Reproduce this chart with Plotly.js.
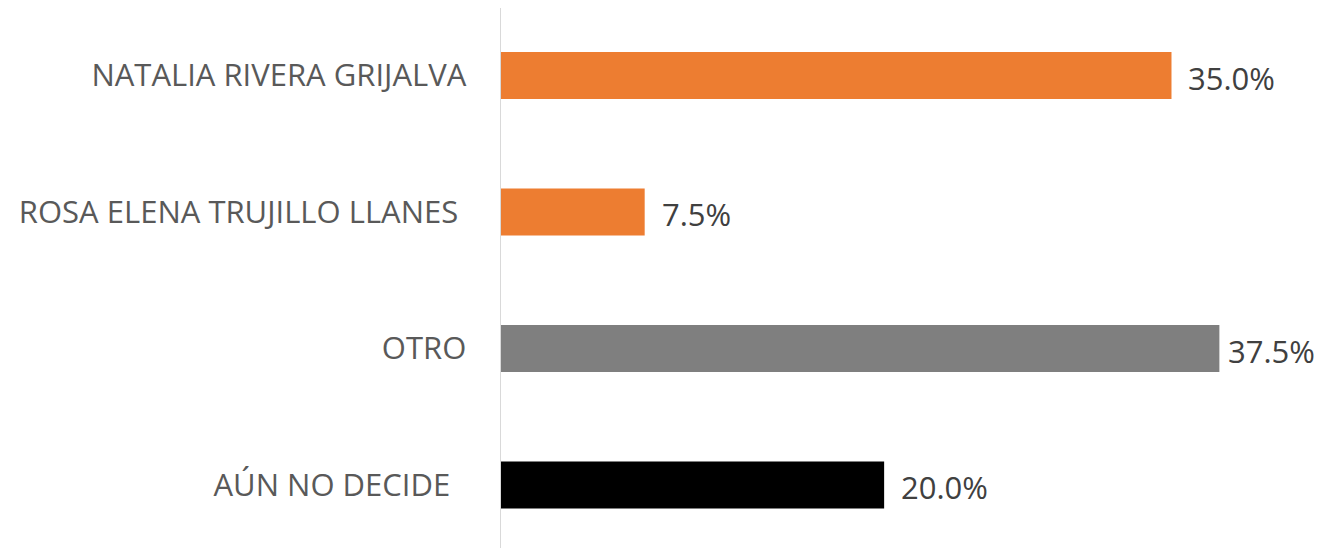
<!DOCTYPE html>
<html><head><meta charset="utf-8">
<script src="https://cdn.plot.ly/plotly-3.0.1.min.js"></script>
<style>html,body{margin:0;padding:0;background:#fff}#chart{width:1319px;height:548px}</style>
</head><body><div id="chart"></div>
<script>
const categories = ["AÚN NO DECIDE", "OTRO", "ROSA ELENA TRUJILLO LLANES", "NATALIA RIVERA GRIJALVA"];
const values = [20.0, 37.5, 7.5, 35.0];
const colors = ["#000000", "#7F7F7F", "#ED7D31", "#ED7D31"];
const tickLabels = ["AÚN NO DECIDE\u00a0\u00a0", "OTRO", "ROSA ELENA TRUJILLO LLANES\u00a0", "NATALIA RIVERA GRIJALVA"];
const valueLabels = values.map(v => v.toFixed(1) + "%");
const labelShift = [15, 7, 15, 15];

const trace = {
  type: "bar", orientation: "h",
  x: values, y: categories,
  marker: {color: colors},
  width: 0.345,
  hoverinfo: "none"
};
const annotations = values.map((v, i) => ({
  x: v, y: categories[i], xref: "x", yref: "y",
  text: valueLabels[i], showarrow: false, xanchor: "left", yanchor: "middle",
  xshift: labelShift[i], yshift: -2,
  font: {family: "Open Sans, sans-serif", size: 31, color: "#404040"}
}));
const layout = {
  width: 1319, height: 548,
  margin: {l: 501, r: 0, t: 8, b: 0},
  paper_bgcolor: "#fff", plot_bgcolor: "#fff",
  showlegend: false,
  xaxis: {range: [0, 42.7], showgrid: false, zeroline: false, showticklabels: false, showline: false, ticks: ""},
  yaxis: {type: "category", range: [-0.4615, 3.4945], showgrid: false, zeroline: false,
          tickmode: "array", tickvals: categories, ticktext: tickLabels,
          showline: true, linecolor: "#D9D9D9", linewidth: 1.5, ticks: "", ticklabelstandoff: 27,
          tickfont: {family: "Open Sans, sans-serif", size: 31, color: "#595959"}},
  annotations: annotations
};
Plotly.newPlot("chart", [trace], layout, {staticPlot: true, displayModeBar: false});
</script></body></html>
